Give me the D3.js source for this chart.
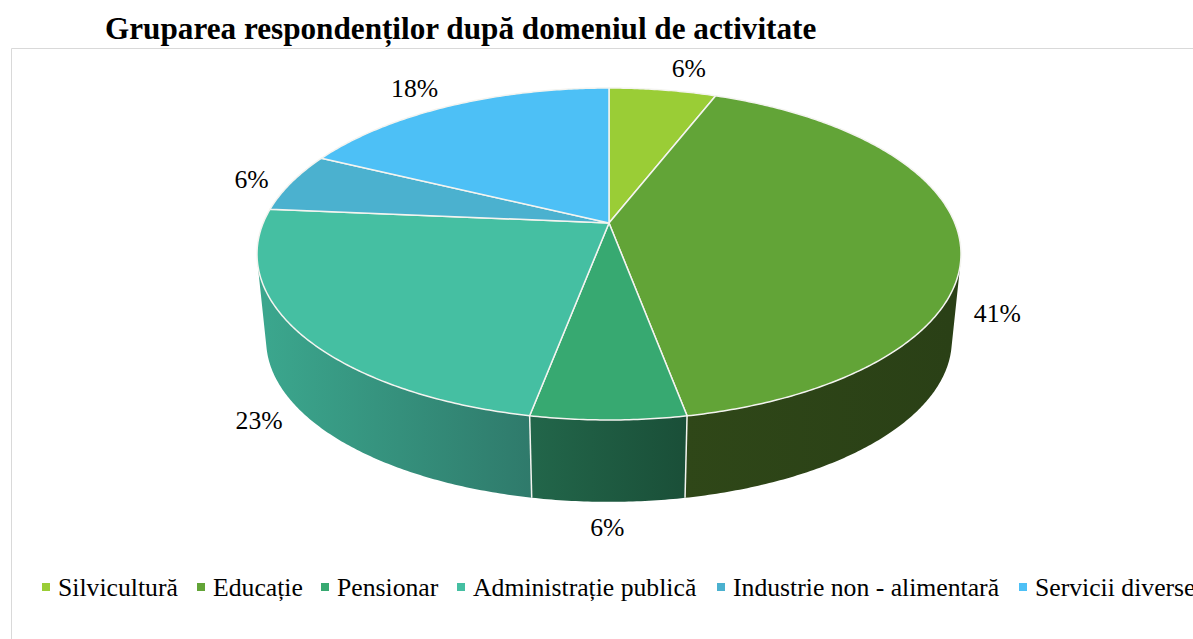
<!DOCTYPE html>
<html>

<head>
    <meta charset="utf-8">
    <style>
        html, body {
            margin: 0;
            background: #fff;
            overflow: hidden;
        }

        svg {
            display: block;
            font-family: 'Liberation Serif', 'Times New Roman', serif;
        }
    </style>
</head>

<body>
    <svg width="1193" height="639"></svg>

    <script src="https://d3js.org/d3.v7.min.js"></script>
    <script>
        const title = "Gruparea respondenților după domeniul de activitate"
        const categories = ["Silvicultură", "Educație", "Pensionar", "Administrație publică", "Industrie non - alimentară", "Servicii diverse"]
        // the labels show them rounded
        const values = [5.9, 41.15, 5.95, 23.4, 5.8, 17.8]
        const topColors = ["#9acd36", "#62a437", "#37a971", "#45bfa2", "#4bb1cf", "#4dc0f6"]
        const wallLeft = ["#7da62c", "#2f4718", "#22664a", "#3ba68d", "#3f94ad", "#3f9dca"]
        const wallRight = ["#7da62c", "#2a4016", "#1a4f38", "#2f7a6b", "#3f94ad", "#3f9dca"]

        // layout
        const cx = 609, cy = 223, rx = 345.8, ry = 160.2, persp = 0.1867
        const bottomScale = 0.974, bottomCy = 310
        const labelNudge = [[26, -21], [38, -11], [-1, 26], [-39, 4], [-40, -3], [-36, -17]]
        const legendX = [41, 196, 320, 456, 716, 1018]

        const svg = d3.select("svg")

        // the disc is a circle seen in perspective, so the centre sits above the middle of the ellipse
        function rim(angle, plane) {
            let u = Math.sin(angle), v = -Math.cos(angle)
            let w = 1 / (1 - persp * v)
            if (plane == "top") {
                return [cx + rx * u * w, cy + ry * v * w]
            }
            return [cx + rx * bottomScale * u * w, bottomCy + ry * bottomScale * v * w]
        }

        function arcPoints(a0, a1, plane) {
            let steps = Math.max(2, Math.ceil((a1 - a0) / 0.01))
            return d3.range(steps + 1).map(i => rim(a0 + (a1 - a0) * i / steps, plane))
        }

        // a wall faces the viewer when it turns outwards from the top rim
        function facing(a) {
            let t = rim(a, "top"), t2 = rim(a + 0.001, "top"), b = rim(a, "bottom")
            return (t2[0] - t[0]) * (b[1] - t[1]) - (t2[1] - t[1]) * (b[0] - t[0]) < 0
        }

        let visible = d3.extent(d3.range(0, 2 * Math.PI, 0.001).filter(facing))

        let slices = d3.pie().sort(null)(values)
        let line = d3.line()

        let walls = slices
            .map(s => ({ index: s.index, a0: Math.max(s.startAngle, visible[0]), a1: Math.min(s.endAngle, visible[1]) }))
            .filter(w => w.a0 < w.a1)

        // frame
        svg.append("path")
            .attr("d", "M11.5,639V48.5H1193")
            .attr("fill", "none")
            .attr("stroke", "#d9d9d9")
            .attr("stroke-width", 1)

        svg.append("text")
            .attr("x", 105)
            .attr("y", 39)
            .attr("font-size", 31.2)
            .attr("font-weight", "bold")
            .attr("fill", "#000")
            .text(title)

        let defs = svg.append("defs")
        walls.forEach(w => {
            let xs = arcPoints(w.a0, w.a1, "bottom").map(p => p[0])
            let grad = defs.append("linearGradient")
                .attr("id", "wall" + w.index)
                .attr("gradientUnits", "userSpaceOnUse")
                .attr("x1", d3.min(xs))
                .attr("x2", d3.max(xs))
                .attr("y1", 0)
                .attr("y2", 0)
            grad.append("stop").attr("offset", 0).attr("stop-color", wallLeft[w.index])
            grad.append("stop").attr("offset", 1).attr("stop-color", wallRight[w.index])
        })

        // walls
        svg.append("g")
            .selectAll("path")
            .data(walls)
            .join("path")
            .attr("d", d => line(arcPoints(d.a0, d.a1, "top")
                .concat(arcPoints(d.a0, d.a1, "bottom").reverse())) + "Z")
            .attr("fill", d => `url(#wall${d.index})`)

        // white seams between the walls, only where they face the viewer
        svg.append("g")
            .selectAll("line")
            .data(slices.filter(d => facing(d.startAngle)))
            .join("line")
            .attr("x1", d => rim(d.startAngle, "top")[0])
            .attr("y1", d => rim(d.startAngle, "top")[1])
            .attr("x2", d => rim(d.startAngle, "bottom")[0])
            .attr("y2", d => rim(d.startAngle, "bottom")[1])
            .attr("stroke", "#f4f4f0")
            .attr("stroke-width", 1.5)

        // top of the disc
        svg.append("g")
            .selectAll("path")
            .data(slices)
            .join("path")
            .attr("d", d => line([[cx, cy]].concat(arcPoints(d.startAngle, d.endAngle, "top"))) + "Z")
            .attr("fill", (d, i) => topColors[i])
            .attr("stroke", "#f4f4f0")
            .attr("stroke-width", 1.5)
            .attr("stroke-linejoin", "round")

        // percent labels
        svg.append("g")
            .selectAll("text")
            .data(slices)
            .join("text")
            .attr("x", (d, i) => rim((d.startAngle + d.endAngle) / 2, "top")[0] + labelNudge[i][0])
            .attr("y", (d, i) => {
                let mid = (d.startAngle + d.endAngle) / 2
                let plane = Math.cos(mid) < 0 ? "bottom" : "top"
                return rim(mid, plane)[1] + labelNudge[i][1]
            })
            .attr("text-anchor", "middle")
            .attr("dominant-baseline", "central")
            .attr("font-size", 25.7)
            .attr("fill", "#000")
            .text(d => Math.round(d.data) + "%")

        // legend
        let legend = svg.append("g")
            .selectAll("g")
            .data(categories)
            .join("g")
            .attr("transform", (d, i) => `translate(${legendX[i]},588)`)

        legend.append("rect")
            .attr("x", 1)
            .attr("y", -5)
            .attr("width", 8)
            .attr("height", 8)
            .attr("fill", (d, i) => topColors[i])

        legend.append("text")
            .attr("x", 17)
            .attr("y", 8)
            .attr("font-size", 25.7)
            .attr("fill", "#000")
            .text(d => d)
    </script>
</body>

</html>
